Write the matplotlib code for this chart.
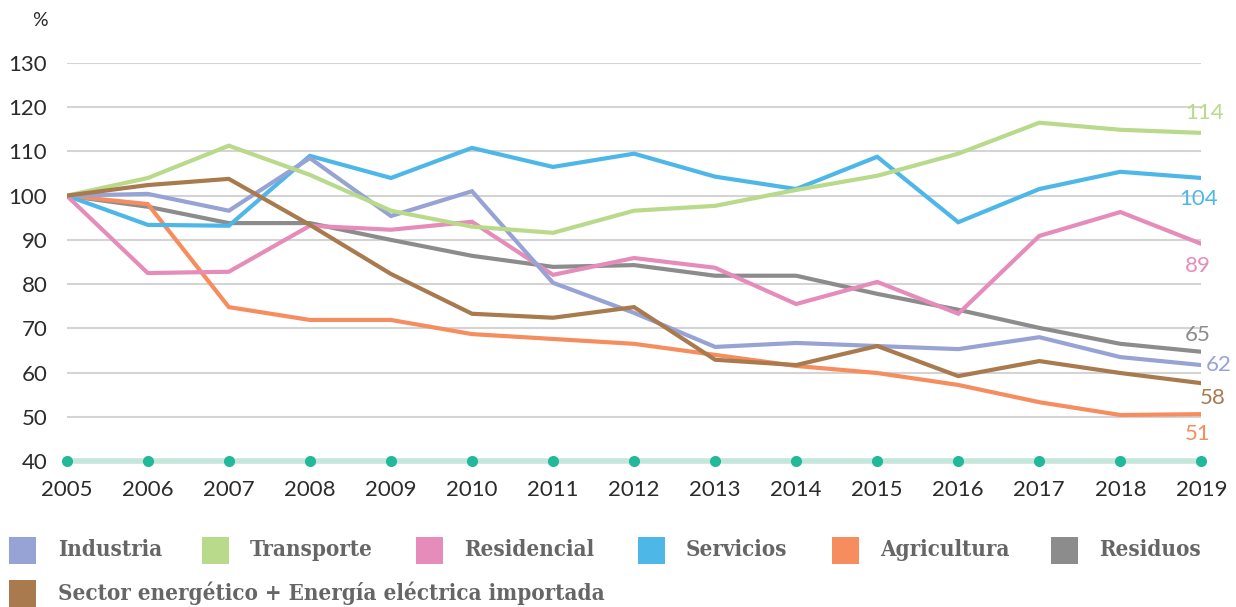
import matplotlib.pyplot as plt
from matplotlib.patches import Rectangle

# Data (index 2005 = 100)
years = list(range(2005, 2020))
industria = [100, 100.4, 96.6, 108.5, 95.4, 101, 80.3, 73.5, 65.8, 66.7, 66, 65.3, 68, 63.5, 61.7]
transporte = [100, 104, 111.3, 104.7, 96.6, 93, 91.6, 96.6, 97.7, 101.3, 104.5, 109.5, 116.5, 114.9, 114.2]
residencial = [100, 82.5, 82.8, 93.2, 92.3, 94.1, 82.1, 85.9, 83.7, 75.5, 80.5, 73.3, 90.9, 96.3, 89.1]
servicios = [100, 93.4, 93.2, 109, 104, 110.8, 106.5, 109.5, 104.3, 101.5, 108.8, 94, 101.5, 105.4, 104]
agricultura = [100, 98.1, 74.8, 71.9, 71.9, 68.7, 67.6, 66.5, 64, 61.5, 59.9, 57.2, 53.3, 50.4, 50.6]
residuos = [100, 97.5, 93.8, 93.8, 90, 86.4, 83.9, 84.3, 81.9, 81.9, 77.8, 74.2, 70.1, 66.5, 64.7]
energetico = [100, 102.4, 103.8, 93.4, 82.3, 73.3, 72.4, 74.8, 62.9, 61.7, 66, 59.2, 62.6, 59.9, 57.6]
baseline = [40] * len(years)

names = ['Industria', 'Transporte', 'Residencial', 'Servicios', 'Agricultura', 'Residuos',
         'Sector energético + Energía eléctrica importada']
series = [industria, transporte, residencial, servicios, agricultura, residuos, energetico]
colors = ['#97a3d4', '#b8da8a', '#e68cba', '#4db7e8', '#f68d5e', '#8c8c8c', '#a87a4e']
end_labels = ['62', '114', '89', '104', '51', '65', '58']
# label offsets in points (dx, dy) from the last point
label_offsets = [(3, 0), (-12, 14), (-12, -16), (-16, -15), (-12, -14), (-12, 12), (-1, -11)]

fig = plt.figure(figsize=(12.36, 6.07), dpi=100)
ax = fig.add_axes([0.054, 0.2405, 0.918, 0.6557])

# draw order: last listed on top
order = [5, 4, 3, 2, 0, 1, 6]
for i in order:
    ax.plot(years, series[i], color=colors[i], lw=3.0, solid_joinstyle='miter', zorder=3)

for i in range(len(series)):
    dx, dy = label_offsets[i]
    ax.annotate(end_labels[i], (years[-1], series[i][-1]), xytext=(dx, dy),
                textcoords='offset points', color=colors[i], fontsize=16,
                fontfamily='Lato', ha='left', va='center', annotation_clip=False)

# teal baseline with dots
ax.plot(years, baseline, color='#c4e6db', lw=4, zorder=2, clip_on=False)
ax.plot(years, baseline, 'o', color='#22b99a', ms=7, zorder=4, clip_on=False)

ax.set_xlim(2005, 2019)
ax.set_ylim(40, 130)
ax.set_yticks(range(40, 131, 10))
ax.set_xticks(years)
ax.grid(axis='y', color='#d4d4d4', lw=1.5)
ax.grid(axis='x', visible=False)
ax.set_axisbelow(True)
for s in ax.spines.values():
    s.set_visible(False)
ax.tick_params(length=0, labelsize=16, colors='#2b2b2b')
ax.tick_params(axis='y', pad=14)
ax.tick_params(axis='x', pad=14)
for lab in ax.get_xticklabels() + ax.get_yticklabels():
    lab.set_fontfamily('Lato')

fig.text(40 / 1236, 1 - 20 / 607, '%', fontsize=14, fontfamily='Lato', color='#2b2b2b',
         ha='center', va='center')

# legend
sq_x = [9, 202, 416, 638, 832, 1051, 9]
txt_x = [58, 250, 464, 686, 880, 1099, 58]
row_y = [550, 550, 550, 550, 550, 550, 593]
W, H = 1236, 607
for i in range(len(names)):
    fig.patches.append(Rectangle((sq_x[i] / W, 1 - (row_y[i] + 13.5) / H), 27 / W, 27 / H,
                                 transform=fig.transFigure, facecolor=colors[i], edgecolor='none'))
    fig.text(txt_x[i] / W, 1 - row_y[i] / H, names[i], fontsize=16, fontweight='bold',
             fontfamily='DejaVu Serif', fontstretch='condensed', color='#666666',
             ha='left', va='center')

fig.savefig('out.png', dpi=100)
